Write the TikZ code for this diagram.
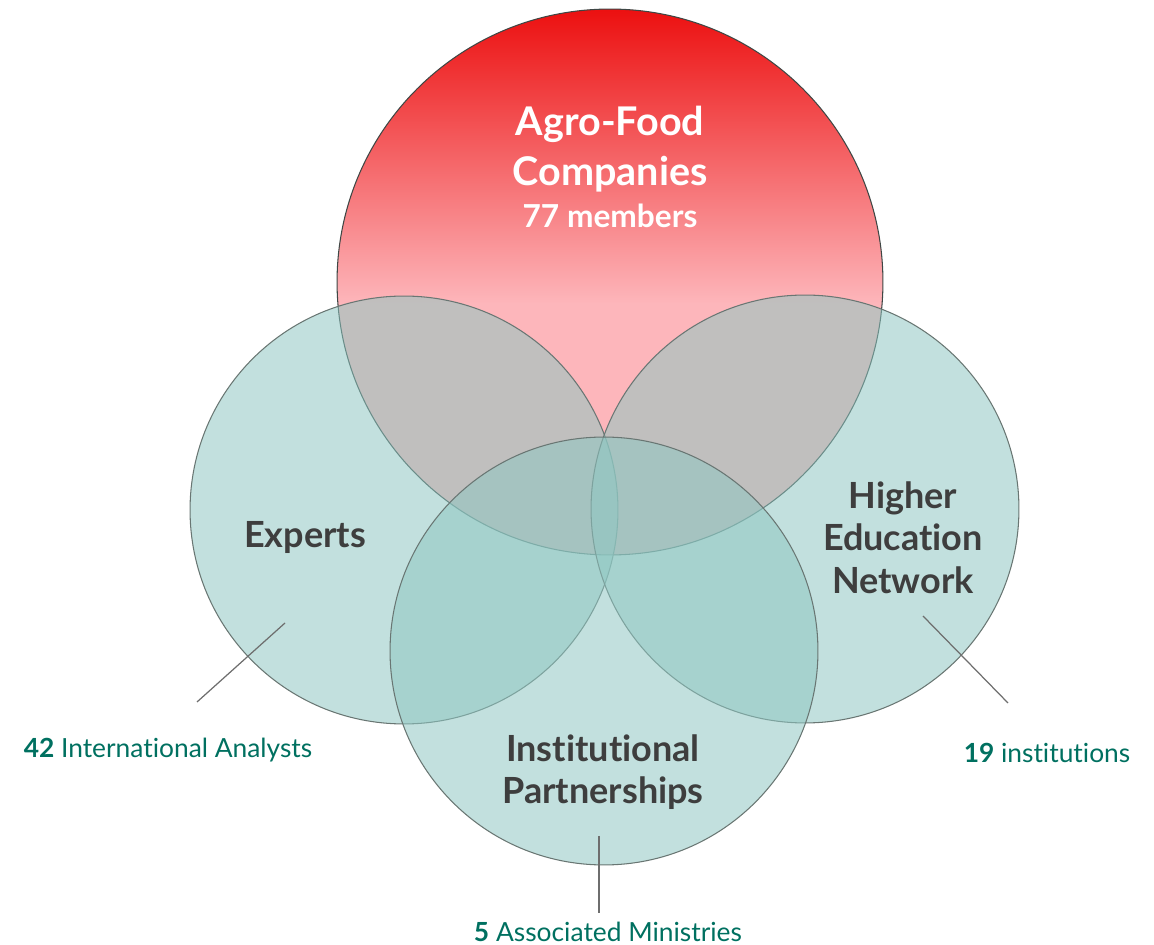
\documentclass[tikz,border=0pt]{standalone}
\usepackage{fontspec}
\setmainfont{Lato}[Ligatures={NoCommon}]
\usetikzlibrary{positioning}
\definecolor{agrored}{RGB}{236,16,16}
\definecolor{agropink}{RGB}{253,182,187}
\definecolor{tealfill}{RGB}{143,199,194}
\definecolor{ringgray}{RGB}{105,118,115}
\definecolor{darktext}{RGB}{62,62,62}
\definecolor{tealtext}{RGB}{0,112,96}
\definecolor{leadergray}{RGB}{110,110,110}
\pgfdeclareverticalshading{agroshade}{100bp}{color(0bp)=(agropink); color(48bp)=(agropink); color(75bp)=(agrored); color(100bp)=(agrored)}

\begin{document}
\begin{tikzpicture}[x=0.02cm, y=-0.02cm,
			redcircle/.style={circle, draw=ringgray!60!black, line width=0.6pt, shading=agroshade, minimum size=10.92cm, inner sep=0pt},
			tealcircle/.style={circle, draw=ringgray, line width=0.6pt, fill=tealfill, fill opacity=0.55, minimum size=8.56cm, inner sep=0pt},
			heading/.style={text=white, font=\fontsize{22.5}{28.4}\selectfont\bfseries, align=center, inner sep=0pt},
			group/.style={text=darktext, font=\fontsize{20.5}{24.4}\selectfont\bfseries, align=center, inner sep=0pt},
			count/.style={text=tealtext, font=\fontsize{15}{18}\selectfont, inner sep=0pt},
			leader/.style={draw=leadergray, line width=0.7pt}]
			\useasboundingbox (0,0) rectangle (1154,945);
			% the four sets
			\node[redcircle] (agro) at (610,282) {};
			\node[tealcircle] (experts) at (404,510) {};
			\node[tealcircle] (higher) at (805,509) {};
			\node[tealcircle] (inst) at (604,651) {};
			% set names
			\node[heading, anchor=north] (agrotitle) at (610,106) {Agro-Food\\Companies};
			\node[heading, font=\fontsize{18}{21}\selectfont\bfseries, anchor=base] (members) at (610,228) {77 members};
			\node[group, anchor=base] (expertstitle) at (305,548) {Experts};
			\node[group, anchor=north] (highertitle) at (903,481) {Higher\\Education\\Network};
			\node[group, anchor=north] (insttitle) at (603,734) {Institutional\\Partnerships};
			% counts
			\node[count, anchor=base] (analysts) at (168,758) {\textbf{42} International Analysts};
			\node[count, anchor=base] (institutions) at (1047,763) {\textbf{19} institutions};
			\node[count, anchor=base] (ministries) at (608,942) {\textbf{5} Associated Ministries};
			\coordinate (expertspin) at (285,623);
			\coordinate (analystspin) at (197,702);
			\coordinate (higherpin) at (923,616);
			\coordinate (institutionspin) at (1008,703);
			\coordinate (instpin) at (599,836);
			\coordinate (ministriespin) at (599,913);
			\begin{scope}[leader]
				\draw (expertspin) -- (analystspin);
				\draw (higherpin) -- (institutionspin);
				\draw (instpin) -- (ministriespin);
			\end{scope}
		\end{tikzpicture}
\end{document}
